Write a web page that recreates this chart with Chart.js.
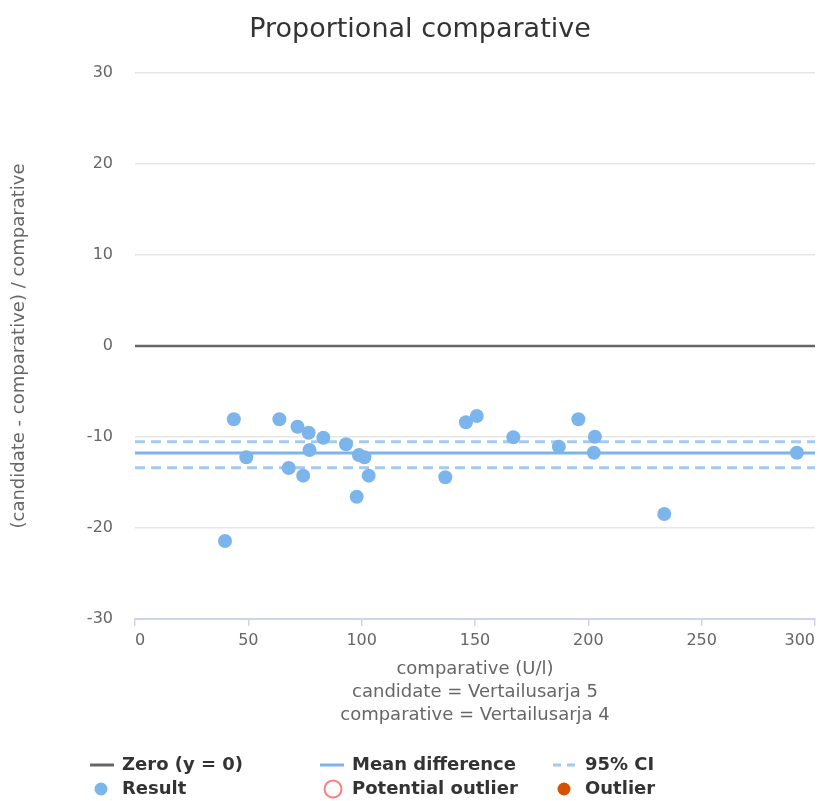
<!DOCTYPE html>
<html>
<head>
<meta charset="utf-8">
<title>Proportional comparative</title>
<script src="https://cdn.jsdelivr.net/npm/chart.js@4/dist/chart.umd.min.js"></script>
<style>
  html, body { margin: 0; padding: 0; background: #ffffff; }
  canvas { display: block; }
</style>
</head>
<body>
<canvas id="chart" width="820" height="801"></canvas>
<script>
// Comparative method result (U/l) for each sample
const comparative = [39.7, 43.6, 49.1, 63.7, 67.8, 71.7, 74.2, 76.6, 77.0, 83.1,
                     93.1, 97.8, 98.8, 101.2, 103.1, 136.9, 146.0, 150.8, 166.9, 187.0,
                     195.6, 202.4, 202.9, 233.5, 292.0];
// (candidate - comparative) / comparative, in percent
const proportionalDiff = [-21.43, -8.05, -12.23, -8.05, -13.41, -8.87, -14.25, -9.53, -11.43, -10.08,
                          -10.80, -16.56, -11.98, -12.23, -14.25, -14.43, -8.38, -7.69, -10.03, -11.07,
                          -8.05, -11.73, -9.97, -18.46, -11.73];
// Summary lines
const meanDifference = -11.76;
const ciUpper = -10.52;
const ciLower = -13.37;
// Axis ranges and tick steps
const xRange = [0, 300];
const xTickStep = 50;
const yRange = [-30, 30];
const yTickStep = 10;
// Texts
const chartTitle = 'Proportional comparative';
const yAxisTitle = '(candidate - comparative) / comparative';
const xAxisTitle = ['comparative (U/l)', 'candidate = Vertailusarja 5', 'comparative = Vertailusarja 4'];
const legendNames = ['Zero (y = 0)', 'Mean difference', '95% CI', 'Result', 'Potential outlier', 'Outlier'];

const BLUE = '#7cb5ec';
const BLUE_LIGHT = 'rgba(124,181,236,0.7)';
const ZERO_GREY = '#666666';
const FONT = '"DejaVu Sans", Verdana, sans-serif';

Chart.defaults.font.family = FONT;

const points = comparative.map((x, i) => ({ x: x, y: proportionalDiff[i] }));
const hLine = v => [{ x: xRange[0], y: v }, { x: xRange[1], y: v }];

// Title drawn centred above the plot
const titlePlugin = {
  id: 'chartTitle',
  afterDraw(chart) {
    const ctx = chart.ctx;
    ctx.save();
    ctx.font = '27px ' + FONT;
    ctx.fillStyle = '#333333';
    ctx.textAlign = 'center';
    ctx.textBaseline = 'middle';
    ctx.fillText(chartTitle, 420, 30);
    ctx.restore();
  }
};

// Two-row, three-column legend below the axis titles
const legendPlugin = {
  id: 'gridLegend',
  afterDraw(chart) {
    const ctx = chart.ctx;
    const cols = [90, 320, 553];
    const rows = [765, 789];
    const symbols = ['line', 'line', 'dash', 'dot', 'ring', 'dot'];
    const colors = [ZERO_GREY, BLUE, BLUE_LIGHT, BLUE, '#ff7f7f', '#d35400'];
    ctx.save();
    ctx.font = 'bold 18px ' + FONT;
    ctx.textBaseline = 'middle';
    ctx.textAlign = 'left';
    legendNames.forEach((name, i) => {
      const x = cols[i % 3];
      const y = rows[Math.floor(i / 3)];
      const sym = symbols[i];
      ctx.setLineDash([]);
      if (sym === 'line' || sym === 'dash') {
        ctx.strokeStyle = colors[i];
        ctx.lineWidth = 3;
        if (sym === 'dash') ctx.setLineDash([8, 6]);
        ctx.beginPath();
        ctx.moveTo(x, y);
        ctx.lineTo(x + 24, y);
        ctx.stroke();
        ctx.setLineDash([]);
      } else if (sym === 'dot') {
        ctx.fillStyle = colors[i];
        ctx.beginPath();
        ctx.arc(x + 11, y, 6.5, 0, Math.PI * 2);
        ctx.fill();
      } else {
        ctx.strokeStyle = colors[i];
        ctx.lineWidth = 2;
        ctx.beginPath();
        ctx.arc(x + 13, y, 8.5, 0, Math.PI * 2);
        ctx.stroke();
      }
      ctx.fillStyle = '#333333';
      ctx.fillText(name, x + 32, y);
    });
    ctx.restore();
  }
};

new Chart(document.getElementById('chart'), {
  type: 'scatter',
  data: {
    datasets: [
      {
        label: legendNames[3],
        type: 'scatter',
        data: points,
        backgroundColor: BLUE,
        borderWidth: 0,
        pointRadius: 7,
        pointHoverRadius: 7
      },
      {
        label: legendNames[1],
        type: 'line',
        data: hLine(meanDifference),
        borderColor: BLUE,
        borderWidth: 3,
        pointRadius: 0,
        fill: false
      },
      {
        label: legendNames[2] + ' upper',
        type: 'line',
        data: hLine(ciUpper),
        borderColor: BLUE_LIGHT,
        borderWidth: 3,
        borderDash: [10, 6],
        pointRadius: 0,
        fill: false
      },
      {
        label: legendNames[2] + ' lower',
        type: 'line',
        data: hLine(ciLower),
        borderColor: BLUE_LIGHT,
        borderWidth: 3,
        borderDash: [10, 6],
        pointRadius: 0,
        fill: false
      },
      {
        label: legendNames[0],
        type: 'line',
        data: hLine(0),
        borderColor: ZERO_GREY,
        borderWidth: 2.5,
        pointRadius: 0,
        fill: false
      }
    ]
  },
  options: {
    responsive: false,
    animation: false,
    devicePixelRatio: 1,
    layout: { autoPadding: false, padding: { top: 73, right: 2, bottom: 74, left: 0 } },
    plugins: {
      legend: { display: false },
      title: { display: false },
      tooltip: { enabled: false }
    },
    scales: {
      x: {
        type: 'linear',
        position: 'bottom',
        min: xRange[0],
        max: xRange[1],
        afterFit(scale) { scale.height = 108; },
        ticks: {
          stepSize: xTickStep,
          align: 'inner',
          color: '#666666',
          font: { size: 16 },
          padding: 5,
          maxRotation: 0
        },
        grid: {
          drawOnChartArea: false,
          drawTicks: true,
          tickLength: 7,
          color: '#ccd6eb',
          lineWidth: 1.5
        },
        border: { display: true, color: '#ccd6eb', width: 2 },
        title: {
          display: true,
          text: xAxisTitle,
          color: '#666666',
          font: { size: 18, lineHeight: 1.28 },
          padding: { top: 0, bottom: 0 }
        }
      },
      y: {
        type: 'linear',
        min: yRange[0],
        max: yRange[1],
        afterFit(scale) { scale.width = 135; },
        ticks: {
          stepSize: yTickStep,
          color: '#666666',
          font: { size: 16 },
          padding: 22
        },
        grid: {
          color: '#e6e6e6',
          lineWidth: 1.5,
          drawTicks: false
        },
        border: { display: false },
        title: {
          display: true,
          text: yAxisTitle,
          color: '#666666',
          font: { size: 18 },
          padding: { top: 9, bottom: 0 }
        }
      }
    }
  },
  plugins: [titlePlugin, legendPlugin]
});
</script>
</body>
</html>
